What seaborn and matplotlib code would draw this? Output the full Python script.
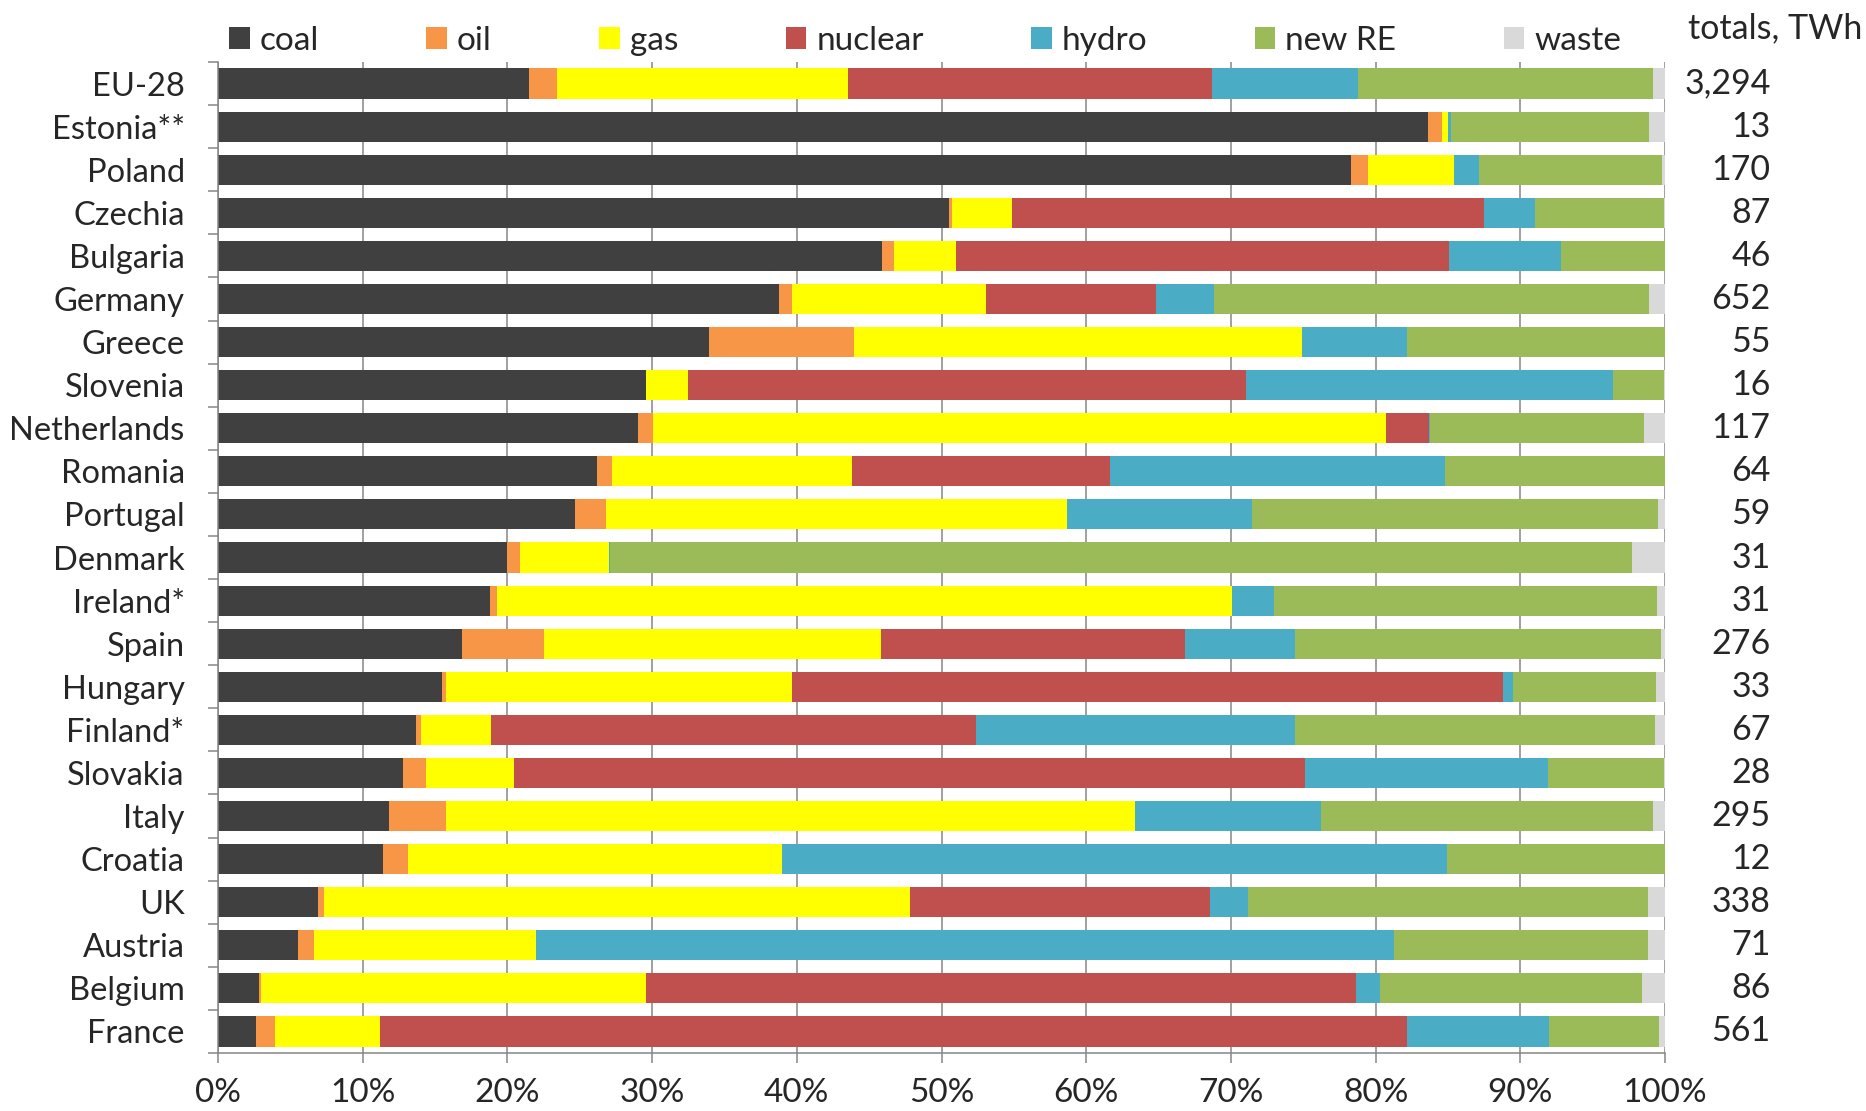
import numpy as np
import pandas as pd
import matplotlib
matplotlib.use("Agg")
import matplotlib.pyplot as plt
import seaborn as sns
from matplotlib.patches import Patch
from matplotlib.ticker import FixedLocator, PercentFormatter

# --------------------------------------------- DATA --------------------------------------------- #
countries = ["EU-28", "Estonia**", "Poland", "Czechia", "Bulgaria", "Germany", "Greece", "Slovenia",
             "Netherlands", "Romania", "Portugal", "Denmark", "Ireland*", "Spain", "Hungary", "Finland*",
             "Slovakia", "Italy", "Croatia", "UK", "Austria", "Belgium", "France"]

# shares of generation, %
coal    = [21.5, 83.65, 78.3, 50.55, 45.9, 38.8, 33.9, 29.55, 29.05, 26.2, 24.65, 20.0, 18.8, 16.85, 15.5, 13.7,
           12.8, 11.85, 11.4, 6.9, 5.5, 2.8, 2.65]
oil     = [1.9, 0.95, 1.2, 0.15, 0.85, 0.85, 10.05, 0.05, 1.0, 1.0, 2.15, 0.9, 0.45, 5.65, 0.25, 0.3,
           1.6, 3.9, 1.75, 0.45, 1.1, 0.2, 1.3]
gas     = [20.15, 0.4, 5.9, 4.2, 4.25, 13.45, 30.95, 2.9, 50.7, 16.6, 31.85, 6.15, 50.85, 23.3, 23.95, 4.9,
           6.05, 47.6, 25.8, 40.45, 15.4, 26.6, 7.25]
nuclear = [25.15, 0.0, 0.0, 32.6, 34.1, 11.7, 0.0, 38.55, 2.95, 17.85, 0.0, 0.0, 0.0, 21.05, 49.1, 33.5,
           54.7, 0.0, 0.0, 20.75, 0.0, 49.05, 70.95]
hydro   = [10.1, 0.2, 1.75, 3.5, 7.7, 4.0, 7.3, 25.35, 0.05, 23.15, 12.8, 0.05, 2.9, 7.6, 0.7, 22.0,
           16.75, 12.9, 46.0, 2.65, 59.25, 1.65, 9.85]
new_re  = [20.4, 13.7, 12.65, 8.9, 7.2, 30.1, 17.8, 3.55, 14.8, 15.2, 28.05, 70.65, 26.45, 25.25, 9.85, 24.9,
           8.05, 22.9, 15.05, 27.6, 17.55, 18.1, 7.6]
waste   = [0.8, 1.1, 0.2, 0.1, 0.0, 1.1, 0.0, 0.05, 1.45, 0.0, 0.5, 2.3, 0.55, 0.3, 0.65, 0.7,
           0.05, 0.85, 0.0, 1.2, 1.2, 1.6, 0.4]

totals = ["3,294", "13", "170", "87", "46", "652", "55", "16", "117", "64", "59", "31", "31", "276", "33", "67",
          "28", "295", "12", "338", "71", "86", "561"]

sources = ["coal", "oil", "gas", "nuclear", "hydro", "new RE", "waste"]
colors = ["#404040", "#F79646", "#FFFF00", "#C0504D", "#4BACC6", "#9BBB59", "#D9D9D9"]

df = pd.DataFrame({"country": countries, "coal": coal, "oil": oil, "gas": gas, "nuclear": nuclear,
                   "hydro": hydro, "new RE": new_re, "waste": waste})
# cumulative ends so the stacks can be drawn back to front
cum = df[sources].cumsum(axis=1)
cum["country"] = df["country"]

# -------------------------------------------- PLOT -------------------------------------------- #
sns.set_theme(style="white")
plt.rcParams["font.family"] = ["Lato", "DejaVu Sans"]

fig = plt.figure(figsize=(18.66, 11.11), dpi=100)
ax = fig.add_axes([218 / 1866, 1 - 1053 / 1111, (1665 - 218) / 1866, (1053 - 62) / 1111])

for src, col in reversed(list(zip(sources, colors))):
    sns.barplot(data=cum, x=src, y="country", order=countries, color=col, saturation=1,
                width=0.7, errorbar=None, linewidth=0, orient="h", ax=ax)

gray = "#868686"
ax.set_xlim(0, 100)
ax.set_ylim(22.5, -0.5)
ax.set_xticks(np.arange(0, 101, 10))
ax.xaxis.set_major_formatter(PercentFormatter(decimals=0))
ax.set_axisbelow(True)
ax.grid(axis="x", color=gray, linewidth=1.1)
ax.grid(axis="y", visible=False)
ax.set_xlabel("")
ax.set_ylabel("")

for s in ["top", "right"]:
    ax.spines[s].set_visible(False)
for s in ["left", "bottom"]:
    ax.spines[s].set_color(gray)
    ax.spines[s].set_linewidth(1.1)

# excel style ticks: labels without ticks, small marks between categories
ax.yaxis.set_minor_locator(FixedLocator(np.arange(-0.5, 23, 1)))
ax.tick_params(axis="y", which="major", length=0, pad=24, labelsize=23.5)
ax.tick_params(axis="y", which="minor", left=True, length=7, width=1.1, color=gray)
ax.tick_params(axis="x", which="major", bottom=True, length=7, width=1.1, color=gray, pad=11, labelsize=24)

# totals column
for i, t in enumerate(totals):
    ax.text(1.073, i, t, transform=ax.get_yaxis_transform(), ha="right", va="center", fontsize=24.5)
fig.text(1688 / 1866, 1 - 28 / 1111, "totals, TWh", ha="left", va="center", fontsize=24.5)

handles = [Patch(facecolor=c, edgecolor="none", label=s) for s, c in zip(sources, colors)]
fig.legend(handles=handles, loc="center left", bbox_to_anchor=(229 / 1866, 1 - 41 / 1111), ncol=7,
           frameon=False, fontsize=24, handlelength=0.62, handleheight=0.62, handletextpad=0.3,
           columnspacing=3.22, borderaxespad=0, borderpad=0)

fig.savefig("out.png", dpi=100)
